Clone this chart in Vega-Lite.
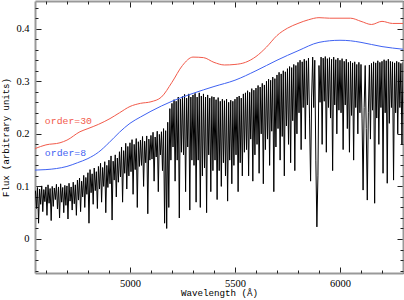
{
  "$schema": "https://vega.github.io/schema/vega-lite/v6.json",
  "width": 368,
  "height": 272,
  "autosize": "none",
  "padding": {"left": 35, "top": 1, "right": 1, "bottom": 27},
  "config": {
    "view": {"stroke": null},
    "axis": {"grid": false, "domainColor": "#999999", "domainWidth": 2, "tickColor": "#222222", "tickWidth": 1, "labelColor": "#000000", "titleColor": "#000000"}
  },
  "datasets": {
    "spec": [
      {"w":4550,"f":0.092},{"w":4555,"f":0.058},{"w":4560,"f":0.098},{"w":4565,"f":0.030},{"w":4570,"f":0.095},{"w":4575,"f":0.066},{"w":4580,"f":0.101},{"w":4585,"f":0.052},{"w":4590,"f":0.094},{"w":4595,"f":0.071},
      {"w":4600,"f":0.099},{"w":4605,"f":0.045},{"w":4610,"f":0.103},{"w":4615,"f":0.068},{"w":4620,"f":0.096},{"w":4625,"f":0.035},{"w":4630,"f":0.100},{"w":4635,"f":0.062},{"w":4640,"f":0.097},{"w":4645,"f":0.075},
      {"w":4650,"f":0.104},{"w":4655,"f":0.057},{"w":4660,"f":0.099},{"w":4665,"f":0.040},{"w":4670,"f":0.105},{"w":4675,"f":0.070},{"w":4680,"f":0.098},{"w":4685,"f":0.050},{"w":4690,"f":0.102},{"w":4695,"f":0.064},
      {"w":4700,"f":0.101},{"w":4705,"f":0.038},{"w":4710,"f":0.106},{"w":4715,"f":0.072},{"w":4720,"f":0.099},{"w":4725,"f":0.055},{"w":4730,"f":0.108},{"w":4735,"f":0.067},{"w":4740,"f":0.103},{"w":4745,"f":0.045},
      {"w":4750,"f":0.112},{"w":4755,"f":0.074},{"w":4760,"f":0.116},{"w":4765,"f":0.052},{"w":4770,"f":0.110},{"w":4775,"f":0.080},{"w":4780,"f":0.121},{"w":4785,"f":0.060},{"w":4790,"f":0.117},{"w":4795,"f":0.085},
      {"w":4800,"f":0.126},{"w":4805,"f":0.030},{"w":4810,"f":0.132},{"w":4815,"f":0.088},{"w":4820,"f":0.124},{"w":4825,"f":0.066},{"w":4830,"f":0.135},{"w":4835,"f":0.092},{"w":4840,"f":0.128},{"w":4845,"f":0.058},
      {"w":4850,"f":0.138},{"w":4855,"f":0.095},{"w":4860,"f":0.144},{"w":4865,"f":0.070},{"w":4870,"f":0.136},{"w":4875,"f":0.100},{"w":4880,"f":0.147},{"w":4885,"f":0.050},{"w":4890,"f":0.140},{"w":4895,"f":0.098},
      {"w":4900,"f":0.150},{"w":4905,"f":0.105},{"w":4910,"f":0.158},{"w":4915,"f":0.036},{"w":4920,"f":0.148},{"w":4925,"f":0.112},{"w":4930,"f":0.160},{"w":4935,"f":0.080},{"w":4940,"f":0.154},{"w":4945,"f":0.108},
      {"w":4950,"f":0.166},{"w":4955,"f":0.118},{"w":4960,"f":0.175},{"w":4965,"f":0.070},{"w":4970,"f":0.168},{"w":4975,"f":0.125},{"w":4980,"f":0.182},{"w":4985,"f":0.095},{"w":4990,"f":0.176},{"w":4995,"f":0.120},
      {"w":5000,"f":0.183},{"w":5005,"f":0.128},{"w":5010,"f":0.189},{"w":5015,"f":0.085},{"w":5020,"f":0.180},{"w":5025,"f":0.132},{"w":5030,"f":0.191},{"w":5035,"f":0.060},{"w":5040,"f":0.185},{"w":5045,"f":0.138},
      {"w":5050,"f":0.188},{"w":5055,"f":0.140},{"w":5060,"f":0.195},{"w":5065,"f":0.100},{"w":5070,"f":0.186},{"w":5075,"f":0.145},{"w":5080,"f":0.196},{"w":5085,"f":0.048},{"w":5090,"f":0.190},{"w":5095,"f":0.150},
      {"w":5100,"f":0.197},{"w":5105,"f":0.152},{"w":5110,"f":0.203},{"w":5115,"f":0.110},{"w":5120,"f":0.194},{"w":5125,"f":0.156},{"w":5130,"f":0.205},{"w":5135,"f":0.090},{"w":5140,"f":0.199},{"w":5145,"f":0.160},
      {"w":5150,"f":0.204},{"w":5155,"f":0.130},{"w":5160,"f":0.210},{"w":5165,"f":0.030},{"w":5170,"f":0.206},{"w":5175,"f":0.020},{"w":5180,"f":0.222},{"w":5185,"f":0.060},{"w":5190,"f":0.248},{"w":5195,"f":0.150},
      {"w":5200,"f":0.258},{"w":5205,"f":0.175},{"w":5210,"f":0.265},{"w":5215,"f":0.110},{"w":5220,"f":0.262},{"w":5225,"f":0.150},{"w":5230,"f":0.270},{"w":5235,"f":0.040},{"w":5240,"f":0.266},{"w":5245,"f":0.165},
      {"w":5250,"f":0.271},{"w":5255,"f":0.160},{"w":5260,"f":0.275},{"w":5265,"f":0.090},{"w":5270,"f":0.268},{"w":5275,"f":0.175},{"w":5280,"f":0.276},{"w":5285,"f":0.055},{"w":5290,"f":0.270},{"w":5295,"f":0.150},
      {"w":5300,"f":0.274},{"w":5305,"f":0.140},{"w":5310,"f":0.277},{"w":5315,"f":0.070},{"w":5320,"f":0.270},{"w":5325,"f":0.150},{"w":5330,"f":0.278},{"w":5335,"f":0.060},{"w":5340,"f":0.272},{"w":5345,"f":0.120},
      {"w":5350,"f":0.276},{"w":5355,"f":0.135},{"w":5360,"f":0.270},{"w":5365,"f":0.050},{"w":5370,"f":0.274},{"w":5375,"f":0.160},{"w":5380,"f":0.268},{"w":5385,"f":0.090},{"w":5390,"f":0.271},{"w":5395,"f":0.130},
      {"w":5400,"f":0.270},{"w":5405,"f":0.150},{"w":5410,"f":0.265},{"w":5415,"f":0.075},{"w":5420,"f":0.269},{"w":5425,"f":0.130},{"w":5430,"f":0.262},{"w":5435,"f":0.100},{"w":5440,"f":0.266},{"w":5445,"f":0.145},
      {"w":5450,"f":0.263},{"w":5455,"f":0.120},{"w":5460,"f":0.266},{"w":5465,"f":0.072},{"w":5470,"f":0.260},{"w":5475,"f":0.150},{"w":5480,"f":0.264},{"w":5485,"f":0.105},{"w":5490,"f":0.262},{"w":5495,"f":0.140},
      {"w":5500,"f":0.266},{"w":5505,"f":0.160},{"w":5510,"f":0.270},{"w":5515,"f":0.090},{"w":5520,"f":0.272},{"w":5525,"f":0.145},{"w":5530,"f":0.268},{"w":5535,"f":0.120},{"w":5540,"f":0.276},{"w":5545,"f":0.165},
      {"w":5550,"f":0.278},{"w":5555,"f":0.170},{"w":5560,"f":0.282},{"w":5565,"f":0.120},{"w":5570,"f":0.279},{"w":5575,"f":0.190},{"w":5580,"f":0.286},{"w":5585,"f":0.110},{"w":5590,"f":0.283},{"w":5595,"f":0.160},
      {"w":5600,"f":0.287},{"w":5605,"f":0.180},{"w":5610,"f":0.292},{"w":5615,"f":0.125},{"w":5620,"f":0.289},{"w":5625,"f":0.200},{"w":5630,"f":0.296},{"w":5635,"f":0.105},{"w":5640,"f":0.293},{"w":5645,"f":0.170},
      {"w":5650,"f":0.300},{"w":5655,"f":0.190},{"w":5660,"f":0.304},{"w":5665,"f":0.140},{"w":5670,"f":0.302},{"w":5675,"f":0.205},{"w":5680,"f":0.308},{"w":5685,"f":0.090},{"w":5690,"f":0.305},{"w":5695,"f":0.175},
      {"w":5700,"f":0.312},{"w":5705,"f":0.210},{"w":5710,"f":0.317},{"w":5715,"f":0.150},{"w":5720,"f":0.314},{"w":5725,"f":0.195},{"w":5730,"f":0.320},{"w":5735,"f":0.120},{"w":5740,"f":0.318},{"w":5745,"f":0.215},
      {"w":5750,"f":0.324},{"w":5755,"f":0.180},{"w":5760,"f":0.328},{"w":5765,"f":0.145},{"w":5770,"f":0.326},{"w":5775,"f":0.225},{"w":5780,"f":0.332},{"w":5785,"f":0.130},{"w":5790,"f":0.330},{"w":5795,"f":0.200},
      {"w":5800,"f":0.336},{"w":5805,"f":0.240},{"w":5810,"f":0.340},{"w":5815,"f":0.170},{"w":5820,"f":0.337},{"w":5825,"f":0.250},{"w":5830,"f":0.342},{"w":5835,"f":0.190},{"w":5840,"f":0.339},{"w":5845,"f":0.255},
      {"w":5850,"f":0.344},{"w":5855,"f":0.230},{"w":5860,"f":0.110},{"w":5865,"f":0.270},{"w":5870,"f":0.346},{"w":5875,"f":0.250},{"w":5880,"f":0.340},{"w":5885,"f":0.150},{"w":5890,"f":0.023},{"w":5895,"f":0.120},
      {"w":5900,"f":0.330},{"w":5905,"f":0.260},{"w":5910,"f":0.346},{"w":5915,"f":0.180},{"w":5920,"f":0.344},{"w":5925,"f":0.262},{"w":5930,"f":0.347},{"w":5935,"f":0.165},{"w":5940,"f":0.343},{"w":5945,"f":0.250},
      {"w":5950,"f":0.345},{"w":5955,"f":0.230},{"w":5960,"f":0.342},{"w":5965,"f":0.130},{"w":5970,"f":0.346},{"w":5975,"f":0.255},{"w":5980,"f":0.341},{"w":5985,"f":0.200},{"w":5990,"f":0.344},{"w":5995,"f":0.245},
      {"w":6000,"f":0.340},{"w":6005,"f":0.240},{"w":6010,"f":0.343},{"w":6015,"f":0.170},{"w":6020,"f":0.338},{"w":6025,"f":0.255},{"w":6030,"f":0.342},{"w":6035,"f":0.210},{"w":6040,"f":0.336},{"w":6045,"f":0.165},
      {"w":6050,"f":0.338},{"w":6055,"f":0.235},{"w":6060,"f":0.335},{"w":6065,"f":0.150},{"w":6070,"f":0.337},{"w":6075,"f":0.250},{"w":6080,"f":0.332},{"w":6085,"f":0.200},{"w":6090,"f":0.336},{"w":6095,"f":0.240},
      {"w":6100,"f":0.332},{"w":6105,"f":0.230},{"w":6110,"f":0.093},{"w":6115,"f":0.250},{"w":6120,"f":0.330},{"w":6125,"f":0.210},{"w":6130,"f":0.074},{"w":6135,"f":0.240},{"w":6140,"f":0.331},{"w":6145,"f":0.190},
      {"w":6150,"f":0.334},{"w":6155,"f":0.245},{"w":6160,"f":0.337},{"w":6165,"f":0.068},{"w":6170,"f":0.335},{"w":6175,"f":0.230},{"w":6180,"f":0.339},{"w":6185,"f":0.180},{"w":6190,"f":0.336},{"w":6195,"f":0.250},
      {"w":6200,"f":0.338},{"w":6205,"f":0.125},{"w":6210,"f":0.341},{"w":6215,"f":0.240},{"w":6220,"f":0.339},{"w":6225,"f":0.106},{"w":6230,"f":0.342},{"w":6235,"f":0.220},{"w":6240,"f":0.338},{"w":6245,"f":0.250},
      {"w":6250,"f":0.337},{"w":6255,"f":0.112},{"w":6260,"f":0.335},{"w":6265,"f":0.240},{"w":6270,"f":0.338},{"w":6275,"f":0.200},{"w":6280,"f":0.336},{"w":6285,"f":0.250},{"w":6290,"f":0.334},{"w":6295,"f":0.180},{"w":6300,"f":0.336}
    ],
    "red": [
      {"w":4548,"f":0.172},{"w":4600,"f":0.179},{"w":4667,"f":0.183},{"w":4700,"f":0.188},{"w":4762,"f":0.204},{"w":4800,"f":0.210},{"w":4850,"f":0.218},{"w":4905,"f":0.229},{"w":4950,"f":0.240},{"w":5000,"f":0.252},
      {"w":5050,"f":0.258},{"w":5100,"f":0.261},{"w":5150,"f":0.270},{"w":5200,"f":0.298},{"w":5250,"f":0.330},{"w":5300,"f":0.346},{"w":5350,"f":0.345},{"w":5400,"f":0.336},{"w":5450,"f":0.331},{"w":5500,"f":0.332},
      {"w":5550,"f":0.336},{"w":5600,"f":0.347},{"w":5650,"f":0.365},{"w":5700,"f":0.387},{"w":5750,"f":0.401},{"w":5800,"f":0.410},{"w":5850,"f":0.417},{"w":5900,"f":0.421},{"w":5950,"f":0.420},{"w":6000,"f":0.420},
      {"w":6050,"f":0.420},{"w":6100,"f":0.414},{"w":6150,"f":0.408},{"w":6200,"f":0.414},{"w":6250,"f":0.410},{"w":6300,"f":0.410}
    ],
    "blue": [
      {"w":4548,"f":0.131},{"w":4600,"f":0.132},{"w":4650,"f":0.134},{"w":4700,"f":0.138},{"w":4750,"f":0.145},{"w":4800,"f":0.153},{"w":4850,"f":0.165},{"w":4900,"f":0.183},{"w":4950,"f":0.203},{"w":5000,"f":0.220},
      {"w":5050,"f":0.232},{"w":5100,"f":0.243},{"w":5200,"f":0.262},{"w":5300,"f":0.277},{"w":5400,"f":0.290},{"w":5500,"f":0.302},{"w":5600,"f":0.320},{"w":5700,"f":0.340},{"w":5800,"f":0.358},{"w":5900,"f":0.374},
      {"w":6000,"f":0.378},{"w":6050,"f":0.377},{"w":6100,"f":0.374},{"w":6200,"f":0.366},{"w":6300,"f":0.361}
    ],
    "labels": [
      {"w":4595,"f":0.225,"t":"order=30","s":"r"},
      {"w":4595,"f":0.164,"t":"order=8","s":"b"}
    ]
  },
  "layer": [
    {
      "data": {"name": "spec"},
      "mark": {"type": "line", "color": "#000000", "strokeWidth": 1, "clip": true},
      "encoding": {
        "x": {"field": "w", "type": "quantitative", "scale": {"domain": [4548, 6300], "nice": false, "zero": false},
              "axis": {"orient": "bottom", "values": [5000, 5500, 6000], "format": "d", "tickSize": -6, "labelPadding": 11, "labelFont": "Liberation Serif", "labelFontSize": 10.5, "title": "Wavelength (Å)", "titleFont": "Liberation Mono", "titleFontSize": 9.2, "titleFontWeight": "normal", "titlePadding": 0}},
        "y": {"field": "f", "type": "quantitative", "scale": {"domain": [-0.0647, 0.4527], "nice": false, "zero": false},
              "axis": {"orient": "left", "values": [0, 0.1, 0.2, 0.3, 0.4], "format": "~g", "tickSize": -6, "labelPadding": 12, "labelFont": "Liberation Serif", "labelFontSize": 10.5, "title": "Flux (arbitrary units)", "titleFont": "Liberation Mono", "titleFontSize": 9, "titleFontWeight": "normal", "titlePadding": 5}}
      }
    },
    {
      "data": {"name": "red"},
      "mark": {"type": "line", "color": "#f25a4a", "strokeWidth": 1, "interpolate": "monotone", "clip": true},
      "encoding": {
        "x": {"field": "w", "type": "quantitative",
              "axis": {"orient": "bottom", "values": [4600,4700,4800,4900,5100,5200,5300,5400,5600,5700,5800,5900,6100,6200,6300], "tickSize": -3, "labels": false, "domain": false, "title": null}},
        "y": {"field": "f", "type": "quantitative",
              "axis": {"orient": "left", "values": [-0.06,-0.04,-0.02,0.02,0.04,0.06,0.08,0.12,0.14,0.16,0.18,0.22,0.24,0.26,0.28,0.32,0.34,0.36,0.38,0.42,0.44], "tickSize": -3, "labels": false, "domain": false, "title": null}}
      }
    },
    {
      "data": {"name": "blue"},
      "mark": {"type": "line", "color": "#3f62f2", "strokeWidth": 1, "interpolate": "monotone", "clip": true},
      "encoding": {
        "x": {"field": "w", "type": "quantitative",
              "axis": {"orient": "top", "values": [5000, 5500, 6000], "tickSize": -6, "labels": false, "title": null}},
        "y": {"field": "f", "type": "quantitative",
              "axis": {"orient": "right", "values": [0, 0.1, 0.2, 0.3, 0.4], "tickSize": -6, "labels": false, "title": null}}
      }
    },
    {
      "data": {"name": "labels"},
      "mark": {"type": "text", "align": "left", "baseline": "middle", "font": "Liberation Mono", "fontSize": 9.8},
      "encoding": {
        "x": {"field": "w", "type": "quantitative",
              "axis": {"orient": "top", "values": [4600,4700,4800,4900,5100,5200,5300,5400,5600,5700,5800,5900,6100,6200,6300], "tickSize": -3, "labels": false, "domain": false, "title": null}},
        "y": {"field": "f", "type": "quantitative",
              "axis": {"orient": "right", "values": [-0.06,-0.04,-0.02,0.02,0.04,0.06,0.08,0.12,0.14,0.16,0.18,0.22,0.24,0.26,0.28,0.32,0.34,0.36,0.38,0.42,0.44], "tickSize": -3, "labels": false, "domain": false, "title": null}},
        "text": {"field": "t"},
        "color": {"field": "s", "type": "nominal", "scale": {"domain": ["r", "b"], "range": ["#f25a4a", "#3f62f2"]}, "legend": null}
      }
    }
  ],
  "resolve": {"axis": {"x": "independent", "y": "independent"}}
}
